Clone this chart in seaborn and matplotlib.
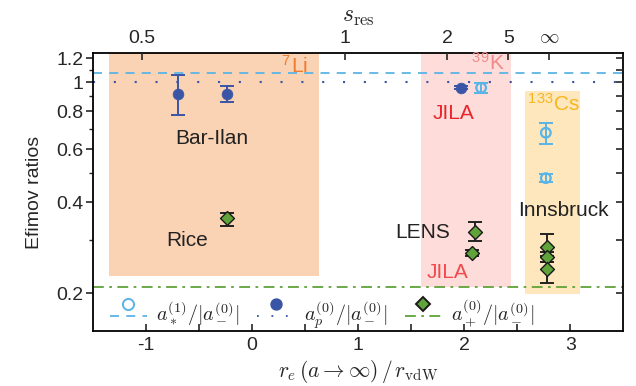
import numpy as np
import pandas as pd
import matplotlib
matplotlib.use("Agg")
import matplotlib.pyplot as plt
import seaborn as sns
from matplotlib.legend_handler import HandlerBase
from matplotlib.lines import Line2D
from matplotlib.ticker import FixedLocator, NullFormatter, FixedFormatter

sns.set_theme(style="ticks")
plt.rcParams["font.family"] = ["Liberation Sans", "DejaVu Sans"]
plt.rcParams["mathtext.fontset"] = "cm"

# ---------------- data ----------------
# a_*^(1)/|a_-^(0)|  (open circles)
star_x = [2.16, 2.77, 2.77]
star_y = [0.958, 0.680, 0.481]
star_lo = [0.922, 0.624, 0.466]
star_hi = [0.995, 0.733, 0.497]

# a_p^(0)/|a_-^(0)|  (filled circles)
p_x = [-0.70, -0.236, 1.97]
p_y = [0.917, 0.913, 0.958]
p_lo = [0.778, 0.861, 0.946]
p_hi = [1.055, 0.972, 0.970]

# a_+^(0)/|a_-^(0)|  (diamonds)
plus_x = [-0.24, 2.10, 2.07, 2.78, 2.78, 2.78]
plus_y = [0.354, 0.320, 0.272, 0.285, 0.263, 0.240]
plus_lo = [0.334, 0.297, 0.266, 0.265, 0.253, 0.216]
plus_hi = [0.370, 0.344, 0.278, 0.314, 0.273, 0.253]

# universal reference values
ref_star = 1.07
ref_p = 1.0
ref_plus = 0.21

# top axis: s_res
s_res_vals = [0.5, 1, 2, 5, np.inf]
s_res_labels = ["0.5", "1", "2", "5", r"$\infty$"]

y_ticks = [0.2, 0.4, 0.6, 0.8, 1.0, 1.2]
y_ticklabels = ["0.2", "0.4", "0.6", "0.8", "1", "1.2"]
y_minor = [0.3, 0.5, 0.7, 0.9, 1.1]
x_ticks = [-1, 0, 1, 2, 3]
x_ticklabels = ["-1", "0", "1", "2", "3"]

# colours
c_star = "#5AB4E6"
c_p = "#3A55A5"
c_plus = "#5FA33A"

df_star = pd.DataFrame({"x": star_x, "y": star_y})
df_p = pd.DataFrame({"x": p_x, "y": p_y})
df_plus = pd.DataFrame({"x": plus_x, "y": plus_y})

fig = plt.figure(figsize=(6.36, 3.86), dpi=100)
ax = fig.add_axes([0.146, 0.1425, 0.834, 0.7205])
ax.set_xlim(-1.5, 3.5)
ax.set_yscale("log")
ax.set_ylim(0.15, 1.25)

# shaded regions
ax.fill_between([-1.346, 0.631], 0.228, 1.25, color="#FAD2B4", lw=0, zorder=0)
ax.fill_between([1.595, 2.446], 0.21, 1.25, color="#FDDCD9", lw=0, zorder=0)
ax.fill_between([2.57, 3.09], 0.199, 0.935, color="#FEE7BC", lw=0, zorder=0)

# reference lines
ax.axhline(ref_star, color=c_star, ls=(0, (5, 4)), lw=1.3, zorder=1)
ax.axhline(ref_p, color=c_p, ls=(0, (1, 9)), lw=1.5, zorder=1)
ax.axhline(ref_plus, color=c_plus, ls=(0, (6, 3, 1.5, 3)), lw=1.3, zorder=1)

def yerr(y, lo, hi):
    y = np.array(y); lo = np.array(lo); hi = np.array(hi)
    return np.vstack([y - lo, hi - y])

ax.errorbar(star_x, star_y, yerr=yerr(star_y, star_lo, star_hi), fmt="none",
            ecolor=c_star, elinewidth=1.4, capsize=5, capthick=1.4, zorder=3)
ax.errorbar(p_x, p_y, yerr=yerr(p_y, p_lo, p_hi), fmt="none",
            ecolor=c_p, elinewidth=1.4, capsize=5, capthick=1.4, zorder=3)
ax.errorbar(plus_x, plus_y, yerr=yerr(plus_y, plus_lo, plus_hi), fmt="none",
            ecolor="#222222", elinewidth=1.4, capsize=5, capthick=1.4, zorder=3)

sns.scatterplot(data=df_star, x="x", y="y", ax=ax, marker="o", s=48,
                facecolors="none", edgecolors=c_star, linewidth=1.6, zorder=4)
sns.scatterplot(data=df_p, x="x", y="y", ax=ax, marker="o", s=60,
                color=c_p, edgecolor=c_p, linewidth=0.5, zorder=4)
sns.scatterplot(data=df_plus, x="x", y="y", ax=ax, marker="D", s=50,
                color=c_plus, edgecolor="#1a1a1a", linewidth=1.0, zorder=4)

# annotations
fs = 15
ax.text(-0.38, 0.653, "Bar-Ilan", ha="center", va="center", fontsize=fs, color="#222222")
ax.text(-0.61, 0.298, "Rice", ha="center", va="center", fontsize=fs, color="#222222")
ax.text(1.61, 0.319, "LENS", ha="center", va="center", fontsize=fs, color="#222222")
ax.text(2.94, 0.377, "Innsbruck", ha="center", va="center", fontsize=fs, color="#222222")
ax.text(1.90, 0.79, "JILA", ha="center", va="center", fontsize=fs, color="#E8262C")
ax.text(1.84, 0.235, "JILA", ha="center", va="center", fontsize=fs, color="#F04A4E")
ax.text(0.53, 1.121, r"$^{\mathregular{7}}$Li", ha="right", va="center", fontsize=fs, color="#F27A2C")
ax.text(2.23, 1.147, r"$^{\mathregular{39}}$K", ha="center", va="center", fontsize=fs, color="#F08A8A")
ax.text(2.84, 0.839, r"$^{\mathregular{133}}$Cs", ha="center", va="center", fontsize=fs, color="#F4B71E")

# axes styling
for sp in ax.spines.values():
    sp.set_color("black"); sp.set_linewidth(1.3)
ax.yaxis.set_major_locator(FixedLocator(y_ticks))
ax.yaxis.set_major_formatter(FixedFormatter(y_ticklabels))
ax.yaxis.set_minor_locator(FixedLocator(y_minor))
ax.yaxis.set_minor_formatter(NullFormatter())
ax.set_xticks(x_ticks)
ax.set_xticklabels(x_ticklabels)
ax.xaxis.set_minor_locator(FixedLocator([-0.5, 0.5, 1.5, 2.5]))
ax.tick_params(axis="y", which="major", direction="out", length=5, width=1.2,
               labelsize=14, left=True, right=False, pad=2)
ax.tick_params(axis="y", which="minor", direction="out", length=3, width=1.0, left=True, right=False)
ax.tick_params(axis="x", which="both", direction="in", length=5, width=1.2,
               labelsize=14, bottom=True, top=False, pad=4)

# right ticks (inward) via twin
axr = ax.twinx()
axr.set_yscale("log"); axr.set_ylim(ax.get_ylim())
axr.yaxis.set_major_locator(FixedLocator(y_ticks))
axr.yaxis.set_minor_locator(FixedLocator(y_minor))
axr.yaxis.set_major_formatter(NullFormatter())
axr.yaxis.set_minor_formatter(NullFormatter())
axr.tick_params(axis="y", which="both", direction="in", length=5, width=1.2)
for sp in axr.spines.values():
    sp.set_visible(False)

# top axis s_res
axt = ax.twiny()
axt.set_xlim(ax.get_xlim())
top_pos = [2.80 - 1.92 / s for s in s_res_vals]
axt.set_xticks(top_pos)
axt.set_xticklabels(s_res_labels)
axt.tick_params(axis="x", direction="in", length=5, width=1.2, labelsize=14, pad=4)
axt.set_xlabel(r"$s_{\rm res}$", fontsize=17, labelpad=6)
for sp in axt.spines.values():
    sp.set_visible(False)

ax.set_ylabel("Efimov ratios", fontsize=14, labelpad=9)
ax.set_xlabel(r"$r_e\,(a\rightarrow\infty)\,/\,r_{\rm vdW}$", fontsize=15.5, labelpad=3)

# custom legend: marker above line
class Key:
    def __init__(self, color, ls, marker, mfc, mec, ms):
        self.color, self.ls, self.marker, self.mfc, self.mec, self.ms = color, ls, marker, mfc, mec, ms

class MarkerAbove(HandlerBase):
    def create_artists(self, legend, h, xdescent, ydescent, width, height, fontsize, trans):
        yl = -ydescent + 0.35 * height
        ln = Line2D([-xdescent, -xdescent + width], [yl, yl], color=h.color, ls=h.ls, lw=1.3,
                    transform=trans)
        mk = Line2D([-xdescent + width / 2], [yl + 0.9 * height], marker=h.marker, ls="none",
                    markersize=h.ms, markerfacecolor=h.mfc, markeredgecolor=h.mec, mew=1.4,
                    transform=trans)
        return [ln, mk]

keys = [Key(c_star, (0, (5, 4)), "o", "none", c_star, 8),
        Key(c_p, (0, (1, 7)), "o", c_p, c_p, 7.5),
        Key(c_plus, (0, (6, 3, 1.5, 3)), "D", c_plus, "#1a1a1a", 7.5)]
labels = [r"$a_*^{(1)}/|a_-^{(0)}|$", r"$a_p^{(0)}/|a_-^{(0)}|$", r"$a_+^{(0)}/|a_-^{(0)}|$"]
ax.legend(keys, labels, handler_map={Key: MarkerAbove()}, ncol=3, frameon=False,
          loc="lower left", bbox_to_anchor=(0.005, -0.052), fontsize=14.5,
          handlelength=1.85, handletextpad=0.45, columnspacing=0.9, borderpad=0.2)

fig.savefig("out.png", dpi=100)
